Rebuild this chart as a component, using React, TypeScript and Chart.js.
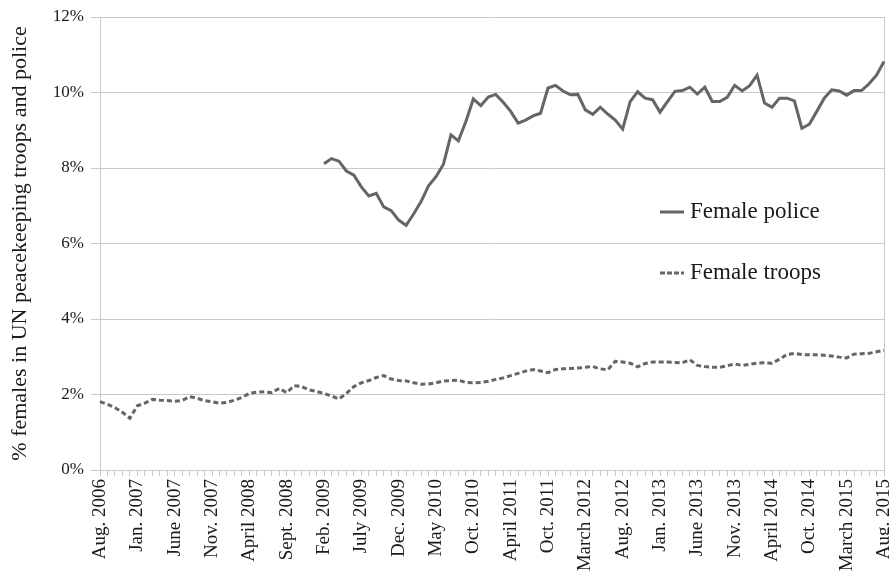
import React, { useEffect, useRef } from "react";
import { Chart, registerables } from "chart.js";

Chart.register(...registerables);

const CATEGORIES: string[] = [
  "Aug. 2006", "Sept. 2006", "Oct. 2006", "Nov. 2006", "Dec. 2006",
  "Jan. 2007", "Feb. 2007", "March 2007", "April 2007", "May 2007", "June 2007", "July 2007", "Aug. 2007", "Sept. 2007", "Oct. 2007", "Nov. 2007", "Dec. 2007",
  "Jan. 2008", "Feb. 2008", "March 2008", "April 2008", "May 2008", "June 2008", "July 2008", "Aug. 2008", "Sept. 2008", "Oct. 2008", "Nov. 2008", "Dec. 2008",
  "Jan. 2009", "Feb. 2009", "March 2009", "April 2009", "May 2009", "June 2009", "July 2009", "Aug. 2009", "Sept. 2009", "Oct. 2009", "Nov. 2009", "Dec. 2009",
  "Jan. 2010", "Feb. 2010", "March 2010", "April 2010", "May 2010", "June 2010", "July 2010", "Aug. 2010", "Sept. 2010", "Oct. 2010", "Nov. 2010", "Dec. 2010",
  "Feb. 2011", "March 2011", "April 2011", "May 2011", "June 2011", "July 2011", "Sept. 2011", "Oct. 2011", "Nov. 2011", "Dec. 2011",
  "Jan. 2012", "Feb. 2012", "March 2012", "April 2012", "May 2012", "June 2012", "July 2012", "Aug. 2012", "Sept. 2012", "Oct. 2012", "Nov. 2012", "Dec. 2012",
  "Jan. 2013", "Feb. 2013", "March 2013", "April 2013", "May 2013", "June 2013", "July 2013", "Aug. 2013", "Sept. 2013", "Oct. 2013", "Nov. 2013", "Dec. 2013",
  "Jan. 2014", "Feb. 2014", "March 2014", "April 2014", "May 2014", "June 2014", "July 2014", "Sept. 2014", "Oct. 2014", "Nov. 2014", "Dec. 2014",
  "Jan. 2015", "Feb. 2015", "March 2015", "April 2015", "May 2015", "June 2015", "July 2015", "Aug. 2015",
];

const LABEL_EVERY = 5;

const TROOPS: number[] = [
  1.81, 1.74, 1.65, 1.53, 1.37, 1.70, 1.77, 1.87, 1.85, 1.84,
  1.82, 1.84, 1.94, 1.90, 1.84, 1.81, 1.77, 1.79, 1.85, 1.92,
  2.03, 2.06, 2.07, 2.05, 2.16, 2.05, 2.23, 2.21, 2.12, 2.08,
  2.03, 1.96, 1.88, 2.03, 2.21, 2.31, 2.37, 2.45, 2.50, 2.41,
  2.37, 2.36, 2.31, 2.27, 2.28, 2.31, 2.36, 2.37, 2.38, 2.32,
  2.31, 2.32, 2.35, 2.40, 2.44, 2.50, 2.56, 2.62, 2.66, 2.62,
  2.58, 2.66, 2.68, 2.69, 2.70, 2.72, 2.74, 2.68, 2.65, 2.88,
  2.86, 2.83, 2.73, 2.82, 2.86, 2.86, 2.86, 2.85, 2.84, 2.92,
  2.77, 2.74, 2.72, 2.72, 2.76, 2.81, 2.77, 2.80, 2.83, 2.84,
  2.83, 2.93, 3.06, 3.09, 3.06, 3.05, 3.05, 3.04, 3.02, 2.99,
  2.97, 3.07, 3.08, 3.09, 3.13, 3.17,
];

const POLICE_START = "Feb. 2009";
const POLICE: number[] = [
  8.11, 8.25, 8.18, 7.92, 7.81, 7.50, 7.26, 7.33, 6.97, 6.87,
  6.62, 6.48, 6.78, 7.11, 7.53, 7.77, 8.10, 8.88, 8.72, 9.23,
  9.83, 9.65, 9.88, 9.95, 9.74, 9.50, 9.19, 9.27, 9.38, 9.45,
  10.12, 10.19, 10.04, 9.94, 9.95, 9.54, 9.42, 9.61, 9.43, 9.27,
  9.03, 9.76, 10.02, 9.85, 9.81, 9.48, 9.76, 10.03, 10.05, 10.14,
  9.96, 10.14, 9.76, 9.76, 9.87, 10.19, 10.04, 10.18, 10.46, 9.72,
  9.61, 9.85, 9.85, 9.78, 9.05, 9.16, 9.50, 9.85, 10.07, 10.04,
  9.93, 10.05, 10.05, 10.23, 10.46, 10.82,
];

const Y_TICKS = [0, 2, 4, 6, 8, 10, 12];
const Y_TITLE = "% females in UN peacekeeping troops and police";
const LEGEND_POLICE = "Female police";
const LEGEND_TROOPS = "Female troops";

const FONT = "'Liberation Serif', 'DejaVu Serif', serif";
const LINE = "#656565";
const GRID = "#c9c9c9";
const TEXT = "#1a1a1a";

const legendPlugin = {
  id: "customLegend",
  afterDraw(chart: any) {
    const ctx = chart.ctx;
    const items = [
      { label: LEGEND_POLICE, y: 212, dash: [] as number[] },
      { label: LEGEND_TROOPS, y: 273, dash: [5, 2] },
    ];
    ctx.save();
    for (const it of items) {
      ctx.strokeStyle = LINE;
      ctx.lineWidth = 3;
      ctx.setLineDash(it.dash);
      ctx.beginPath();
      ctx.moveTo(660, it.y);
      ctx.lineTo(684, it.y);
      ctx.stroke();
      ctx.setLineDash([]);
      ctx.fillStyle = TEXT;
      ctx.font = `23px ${FONT}`;
      ctx.textBaseline = "middle";
      ctx.textAlign = "left";
      ctx.fillText(it.label, 690, it.y);
    }
    ctx.restore();
  },
};

export default function App() {
  const ref = useRef<HTMLCanvasElement | null>(null);

  useEffect(() => {
    document.body.style.margin = "0";
    const start = CATEGORIES.indexOf(POLICE_START);
    const policeData: (number | null)[] = CATEGORIES.map((_, i) =>
      i < start ? null : POLICE[i - start] ?? null
    );
    const chart = new Chart(ref.current as HTMLCanvasElement, {
      type: "line",
      data: {
        labels: CATEGORIES,
        datasets: [
          {
            label: LEGEND_POLICE,
            data: policeData,
            borderColor: LINE,
            borderWidth: 3,
            pointRadius: 0,
            tension: 0,
            spanGaps: false,
          },
          {
            label: LEGEND_TROOPS,
            data: TROOPS,
            borderColor: LINE,
            borderWidth: 3,
            borderDash: [5, 3],
            pointRadius: 0,
            tension: 0,
          },
        ],
      },
      options: {
        animation: false,
        responsive: false,
        maintainAspectRatio: false,
        layout: { padding: { left: 0, right: 5, top: 17, bottom: 0 } },
        plugins: { legend: { display: false }, tooltip: { enabled: false } },
        scales: {
          x: {
            type: "category",
            offset: false,
            border: { display: true, color: GRID, width: 1 },
            grid: {
              display: true,
              drawOnChartArea: true,
              color: (c: any) =>
                c.index === CATEGORIES.length - 1 ? GRID : "rgba(0,0,0,0)",
              tickColor: GRID,
              tickLength: 6,
            },
            ticks: {
              autoSkip: false,
              maxRotation: 90,
              minRotation: 90,
              padding: 3,
              color: TEXT,
              font: { family: FONT, size: 19 },
              callback: (_v: any, i: number) =>
                i % LABEL_EVERY === 0 ? CATEGORIES[i] : "",
            },
            afterFit: (s: any) => {
              s.height = 116;
              s.paddingLeft = 0;
              s.paddingRight = 0;
            },
          },
          y: {
            min: 0,
            max: 12,
            border: { display: true, color: GRID, width: 1 },
            grid: { color: GRID, tickColor: GRID, tickLength: 9 },
            afterBuildTicks: (s: any) => {
              s.ticks = Y_TICKS.map((v) => ({ value: v }));
            },
            ticks: {
              color: TEXT,
              padding: 7,
              font: { family: FONT, size: 17 },
              callback: (v: any) => `${v}%`,
            },
            title: {
              display: true,
              text: Y_TITLE,
              color: TEXT,
              font: { family: FONT, size: 22 },
              padding: { top: 7, bottom: 0 },
            },
            afterFit: (s: any) => {
              s.width = 100;
              s.paddingTop = 0;
              s.paddingBottom = 0;
            },
          },
        },
      },
      plugins: [legendPlugin],
    });
    return () => chart.destroy();
  }, []);

  return (
    <div style={{ width: 889, height: 586, background: "#fff" }}>
      <canvas ref={ref} width={889} height={586} style={{ display: "block" }} />
    </div>
  );
}
